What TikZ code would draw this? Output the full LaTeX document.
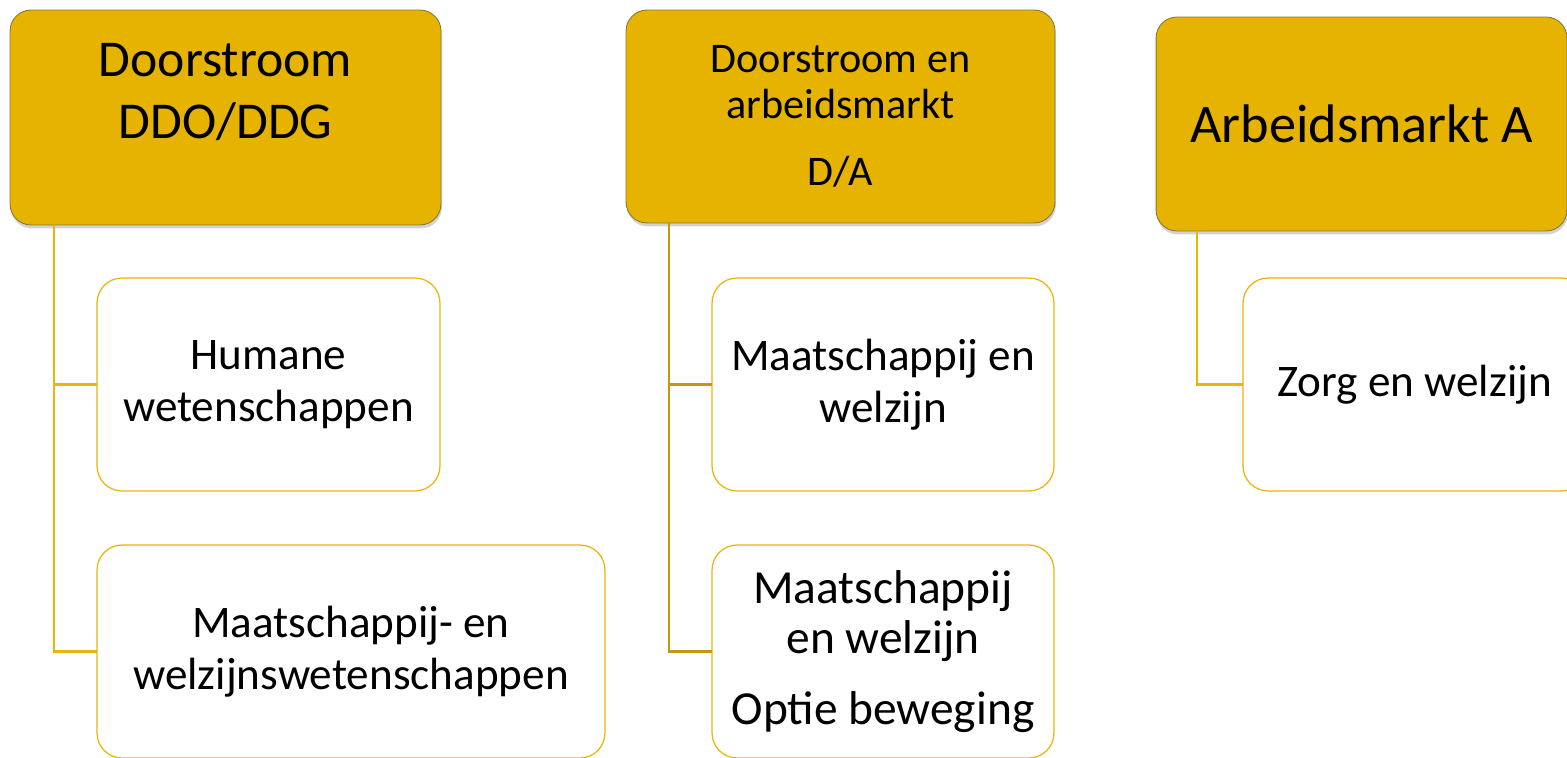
\documentclass[tikz,border=0pt]{standalone}
\usepackage{fontspec}
\setmainfont{Carlito}
\usetikzlibrary{shadows}
\definecolor{gold}{RGB}{230,180,0}
\definecolor{goldedge}{RGB}{140,118,50}
\definecolor{goldline}{RGB}{232,182,10}
\definecolor{darkgold}{RGB}{196,150,20}
\tikzset{
    hdr/.style={draw=goldedge, line width=0.5pt, fill=gold, rounded corners=0.42cm, inner sep=0pt, outer sep=0pt, align=center,
        drop shadow={shadow xshift=0.5pt, shadow yshift=-2pt, opacity=0.35}},
    sub/.style={draw=goldline, line width=0.7pt, fill=white, rounded corners=0.5cm, inner sep=0pt, outer sep=0pt, align=center,
        minimum height=4.26cm, font=\fontsize{25.7}{29.5}\selectfont},
    conn/.style={line width=1.3pt, goldline}
}
\begin{document}
\begin{tikzpicture}[x=0.02cm, y=-0.02cm]
        \useasboundingbox (0,0) rectangle (1567,757);
        \clip (0,0) rectangle (1567,757);
        % kopjes
        \node[hdr, minimum width=8.62cm, minimum height=4.3cm] (ddo) at (225.5,117.5) {};
        \node[align=center, font=\fontsize{29.4}{35.7}\selectfont] (ddo-t) at (225.5,92) {Doorstroom\\DDO/DDG};
        \node[hdr, minimum width=8.58cm, minimum height=4.26cm, font=\fontsize{24}{26}\selectfont] (da) at (840.5,116.5) {Doorstroom en\\arbeidsmarkt\\[12pt]D/A};
        \node[hdr, minimum width=8.22cm, minimum height=4.28cm, font=\fontsize{30.9}{35}\selectfont] (arb) at (1361.5,124) {Arbeidsmarkt A};
        % richtingen
        \node[sub, minimum width=6.86cm] (hum) at (268.5,384.5) {Humane\\wetenschappen};
        \node[sub, minimum width=10.16cm] (mww) at (351,651.5) {Maatschappij- en\\welzijnswetenschappen};
        \node[sub, minimum width=6.84cm] (mw) at (883,384.5) {Maatschappij en\\welzijn};
        \node[sub, minimum width=6.84cm, font=\fontsize{27}{28.5}\selectfont] (mwb) at (883,651.5) {Maatschappij\\en welzijn\\[12pt]Optie beweging};
        \node[sub, minimum width=6.86cm] (zw) at (1414.5,384.5) {Zorg en welzijn};
        % lijnen
        \draw[conn] ([xshift=0.88cm]ddo.south west) |- (hum.west);
        \draw[conn] ([xshift=0.88cm]ddo.south west) |- (mww.west);
        \draw[conn, darkgold] ([xshift=0.86cm]da.south west) |- (mw.west);
        \draw[conn, darkgold] ([xshift=0.86cm]da.south west) |- (mwb.west);
        \draw[conn] ([xshift=0.82cm]arb.south west) |- (zw.west);
    \end{tikzpicture}
\end{document}
